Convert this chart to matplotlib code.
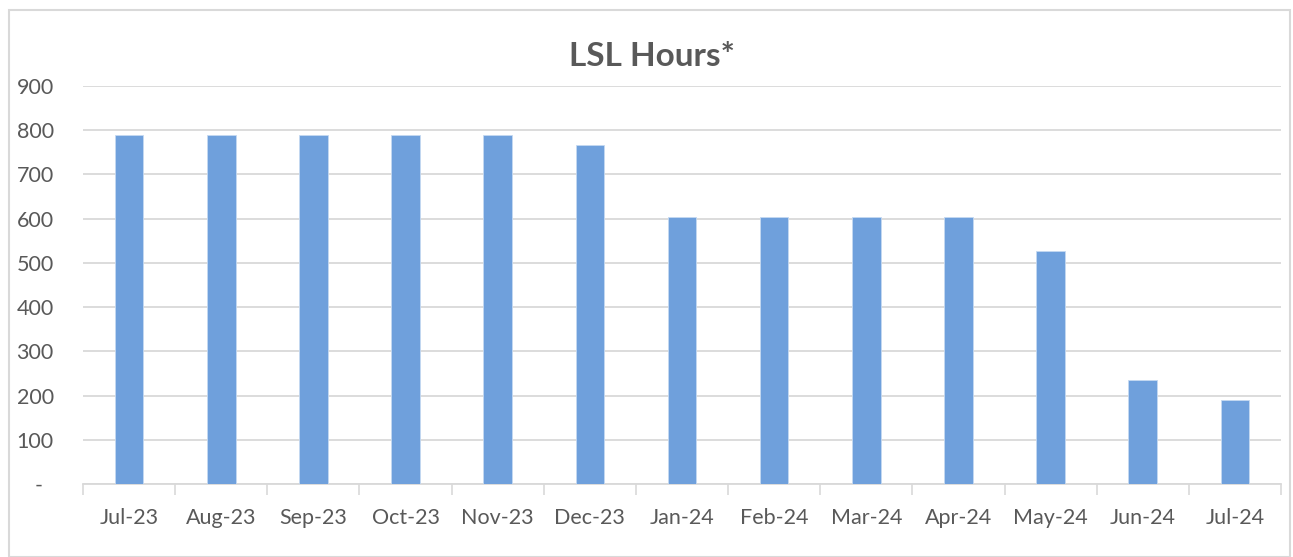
import matplotlib
matplotlib.use('Agg')
import numpy as np
import matplotlib.pyplot as plt
from matplotlib.patches import Rectangle

plt.rcParams['font.family'] = ['Lato', 'DejaVu Sans']

months = ['Jul-23', 'Aug-23', 'Sep-23', 'Oct-23', 'Nov-23', 'Dec-23', 'Jan-24',
          'Feb-24', 'Mar-24', 'Apr-24', 'May-24', 'Jun-24', 'Jul-24']
hours = [790, 790, 790, 790, 790, 767, 604, 604, 604, 604, 528, 235, 190]

y_ticks = np.arange(0, 1000, 100)
y_labels = ['-  '] + [str(v) for v in y_ticks[1:]]

TEXT = '#595959'
GRID = '#d9d9d9'
BAR = '#6fa0dc'

fig = plt.figure(figsize=(12.93, 5.57), dpi=100)
ax = fig.add_axes([83 / 1293, 1 - 484 / 557, (1281 - 83) / 1293, (484 - 86) / 557])

x = np.arange(len(months))
ax.bar(x, hours, width=0.31, color=BAR, edgecolor='#c5d9f1', linewidth=0.6, zorder=3)

ax.set_xlim(-0.5, len(months) - 0.5)
ax.set_ylim(0, 900)
ax.set_yticks(y_ticks)
ax.set_yticklabels(y_labels)
ax.set_xticks(x)
ax.set_xticklabels(months)
ax.tick_params(axis='y', length=0, pad=21, labelsize=15.5, labelcolor=TEXT)
ax.tick_params(axis='x', length=0, pad=17, labelsize=15.5, labelcolor=TEXT)

# category boundary ticks
ax.set_xticks(np.arange(-0.5, len(months)), minor=True)
ax.tick_params(axis='x', which='minor', length=8, color=GRID, width=1.2)

ax.grid(axis='y', color=GRID, linewidth=1.3, zorder=0)
for s in ['top', 'right', 'left']:
    ax.spines[s].set_visible(False)
ax.spines['bottom'].set_color(GRID)
ax.spines['bottom'].set_linewidth(1.3)

fig.text(0.5045, 1 - 56 / 557, 'LSL Hours*', ha='center', va='center',
         fontsize=24, fontweight='bold', color=TEXT)

fig.patches.append(Rectangle((9 / 1293, 0), (1290 - 9) / 1293, 1 - 10 / 557,
                             transform=fig.transFigure, fill=False,
                             edgecolor=GRID, linewidth=1.5))

fig.savefig('out.png', dpi=100)
